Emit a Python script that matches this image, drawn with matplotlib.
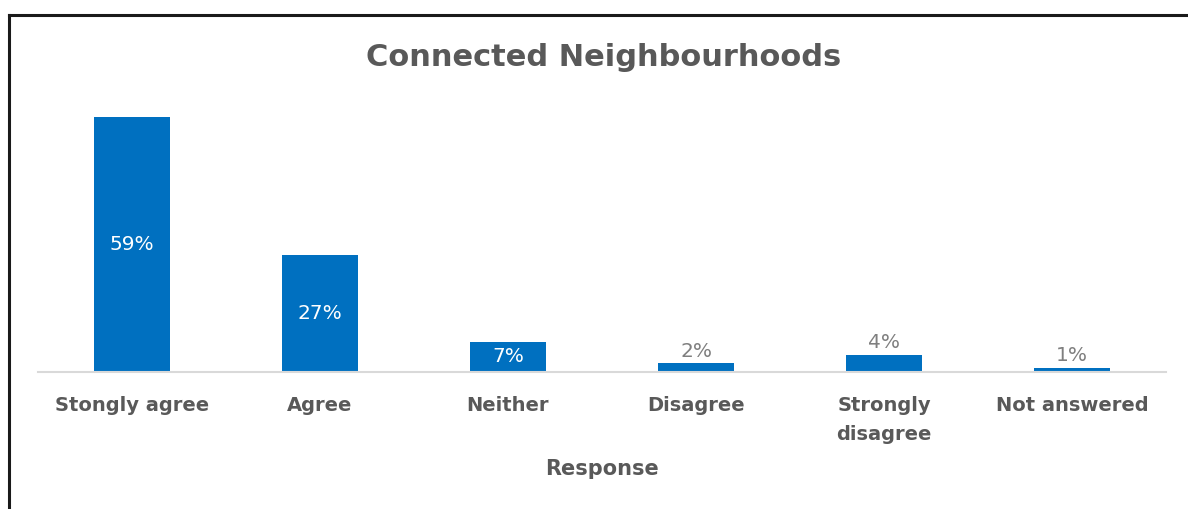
import matplotlib.pyplot as plt
from matplotlib.lines import Line2D

categories = ["Stongly agree", "Agree", "Neither", "Disagree", "Strongly\ndisagree", "Not answered"]
values = [59, 27, 7, 2, 4, 1]
inside = [True, True, True, False, False, False]

bar_color = "#0070C0"
text_gray = "#595959"

fig = plt.figure(figsize=(11.88, 5.09), dpi=100)
W, H = 1188, 509

# frame lines along top and left edges
fig.add_artist(Line2D([9 / W, 1], [1 - 15 / H, 1 - 15 / H], color="#1a1a1a", lw=2.2))
fig.add_artist(Line2D([9 / W, 9 / W], [0, 1 - 15 / H], color="#1a1a1a", lw=2.2))

left, right = 38 / W, 1166 / W
bottom = 1 - 372 / H
top = 1 - 100 / H
ax = fig.add_axes([left, bottom, right - left, top - bottom])

x = range(len(categories))
ax.bar(x, values, width=0.40, color=bar_color, zorder=2)
ax.set_xlim(-0.5, len(categories) - 0.5)
ax.set_ylim(0, 272 / 4.32)

for i, (v, ins) in enumerate(zip(values, inside)):
    if ins:
        ax.text(i, v / 2, f"{v}%", ha="center", va="center", color="white", fontsize=14.5,
                family="DejaVu Sans")
    else:
        ax.text(i, v + 0.6, f"{v}%", ha="center", va="bottom", color="#7f7f7f", fontsize=14.5,
                family="DejaVu Sans")

for s in ["top", "right", "left"]:
    ax.spines[s].set_visible(False)
ax.spines["bottom"].set_color("#d9d9d9")
ax.spines["bottom"].set_linewidth(1.5)
ax.set_yticks([])
ax.set_xticks(list(x))
ax.set_xticklabels(categories, fontsize=14, fontweight="bold", color=text_gray, linespacing=1.7)
ax.tick_params(axis="x", length=0, pad=17)
ax.set_xlabel("Response", fontsize=15, fontweight="bold", color=text_gray, labelpad=11)

fig.text(604 / W, 1 - 58 / H, "Connected Neighbourhoods", ha="center", va="center",
         fontsize=22, fontweight="bold", color=text_gray)

fig.savefig("out.png", dpi=100)
